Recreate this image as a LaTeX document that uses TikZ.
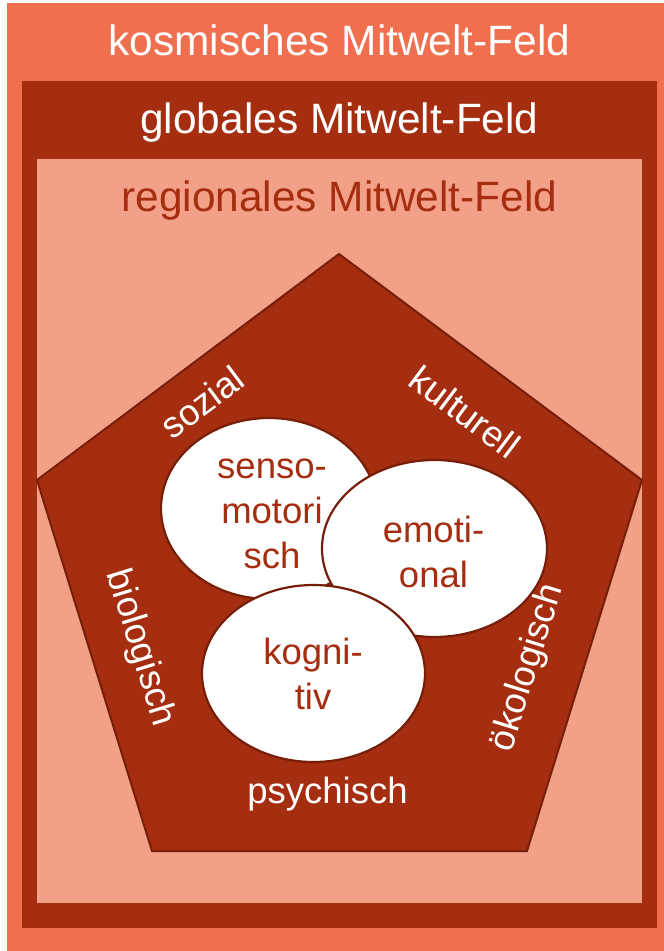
\documentclass[tikz,border=0pt]{standalone}
\usepackage{fontspec}
\setmainfont{Liberation Sans}
\usetikzlibrary{shapes.geometric}

\definecolor{kosmos}{HTML}{EF6F4E}
\definecolor{globus}{HTML}{A52E10}
\definecolor{region}{HTML}{F3A088}
\definecolor{rim}{HTML}{761E08}

\tikzset{
  header/.style={inner sep=0pt, anchor=base, font=\fontsize{42.4}{50}\selectfont},
  edgelabel/.style={inner sep=0pt, text=white, font=\fontsize{36.5}{45}\selectfont},
  bubble/.style={ellipse, draw=rim, line width=2.2pt, fill=white, inner sep=0pt},
  bubbletext/.style={inner sep=0pt, align=center, text=globus, font=\fontsize{36.5}{45}\selectfont},
}

\begin{document}
\begin{tikzpicture}[x=1pt, y=-1pt]
  \useasboundingbox (0,0) rectangle (664,951);
  \fill[white] (0,0) rectangle (664,951);

  % nested fields
  \fill[kosmos] (7,3) rectangle (664,951);
  \fill[globus] (22,81) rectangle (657,928);
  \fill[region] (37,159) rectangle (642,903);

  \node[header, text=white] (kosmos-t) at (339.5,55) {kosmisches Mitwelt-Feld};
  \node[header, text=white] (globus-t) at (339.5,133) {globales Mitwelt-Feld};
  \node[header, text=globus] (region-t) at (339.5,211) {regionales Mitwelt-Feld};

  % pentagon of influences
  \coordinate (pTop) at (339,254);
  \coordinate (pRight) at (642,480);
  \coordinate (pBR) at (527,851);
  \coordinate (pBL) at (152,851);
  \coordinate (pLeft) at (37,480);
  \draw[rim, fill=globus, line width=2pt, line join=miter]
    (pTop) -- (pRight) -- (pBR) -- (pBL) -- (pLeft) -- cycle;

  \node[edgelabel, rotate=36.8] (sozial) at (202,402) {sozial};
  \node[edgelabel, rotate=-36.8] (kulturell) at (465,412) {kulturell};
  \node[edgelabel, rotate=-72.8] (biologisch) at (140,648) {biologisch};
  \node[edgelabel, rotate=72.8] (oekologisch) at (528,668) {ökologisch};
  \node[edgelabel, anchor=base] (psychisch) at (327.5,803) {psychisch};

  % three overlapping capacities
  \node[bubble, minimum width=216pt, minimum height=181pt] (senso) at (269,508.5) {};
  \node[bubble, minimum width=225pt, minimum height=177pt] (emotional) at (434.5,548.5) {};
  \node[bubble, minimum width=223pt, minimum height=177pt] (kognitiv) at (313.5,673.5) {};

  \node[bubbletext] (senso-t) at (272,514) {\strut senso-\\\strut motori\\\strut sch};
  \node[bubbletext] (emotional-t) at (433.5,555.5) {\strut emoti-\\\strut onal};
  \node[bubbletext] (kognitiv-t) at (313,678) {\strut kogni-\\\strut tiv};
\end{tikzpicture}
\end{document}
